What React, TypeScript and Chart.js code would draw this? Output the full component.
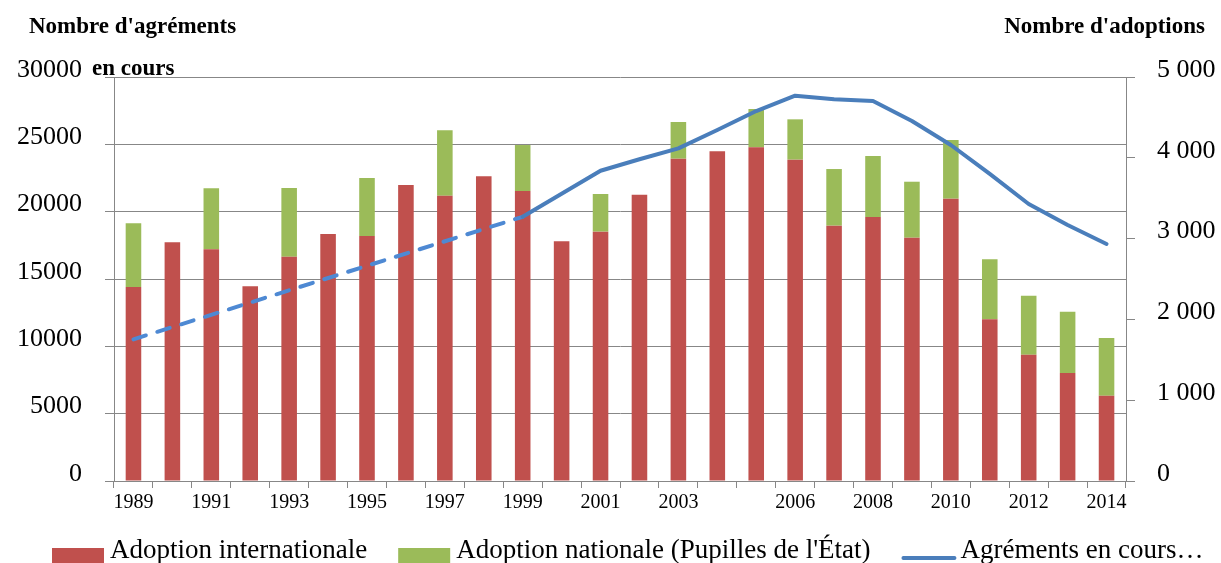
import React, { useEffect, useRef } from 'react';
import { Chart, registerables } from 'chart.js';

Chart.register(...registerables);

const SERIF = '"Liberation Serif", "DejaVu Serif", serif';

const years = [
  '1989', '1990', '1991', '1992', '1993', '1994', '1995', '1996', '1997', '1998',
  '1999', '2000', '2001', '2002', '2003', '2004', '2005', '2006', '2007', '2008',
  '2009', '2010', '2011', '2012', '2013', '2014',
];

const shownYearLabels = [
  '1989', '1991', '1993', '1995', '1997', '1999', '2001', '2003', '2006', '2008', '2010', '2012', '2014',
];

// Nombre d'adoptions (axe de droite)
const adoptionInternationale = [
  2401, 2954, 2868, 2409, 2776, 3057, 3032, 3663, 3531, 3771,
  3589, 2966, 3086, 3544, 3989, 4080, 4130, 3977, 3160, 3267,
  3011, 3494, 2001, 1563, 1337, 1056,
];

const adoptionNationale = [
  788, null, 754, null, 850, null, 718, null, 809, null,
  569, null, 466, null, 454, null, 474, 499, 701, 755,
  693, 726, 743, 730, 758, 714,
];

// Nombre d'agréments en cours (axe de gauche)
const agrementsEnCours = [
  10520, null, null, null, null, null, null, null, null, null,
  19620, 21330, 23040, 23890, 24700, 26060, 27470, 28610, 28340, 28220,
  26730, 24950, 22800, 20570, 19010, 17600,
];

const leftAxisMax = 30000;
const leftAxisStep = 5000;
const rightAxisMax = 5000;
const rightAxisStep = 1000;

const labelInternationale = 'Adoption internationale';
const labelNationale = "Adoption nationale (Pupilles de l'État)";
const labelAgrements = 'Agréments en cours…';

const leftTitleLine1 = "Nombre d'agréments";
const leftTitleLine2 = 'en cours';
const rightTitle = "Nombre d'adoptions";

const RED = '#C0504D';
const GREEN = '#9BBB59';
const BLUE = '#4A7EBB';
const BLUE_DASHED = '#4E89D3';
const GRID = '#878787';

const formatRight = (v: number) => {
  if (v === 0) return '0';
  const s = String(v);
  return s.slice(0, s.length - 3) + ' ' + s.slice(s.length - 3);
};

const decorPlugin = {
  id: 'decor',
  afterDraw(chart: any) {
    const ctx = chart.ctx as CanvasRenderingContext2D;
    ctx.save();
    ctx.fillStyle = '#000';
    ctx.textBaseline = 'alphabetic';
    ctx.font = `bold 23px ${SERIF}`;
    ctx.textAlign = 'left';
    ctx.fillText(leftTitleLine1, 29, 33);
    ctx.fillText(leftTitleLine2, 92, 75);
    ctx.textAlign = 'right';
    ctx.fillText(rightTitle, 1205, 33);

    // legend
    ctx.textAlign = 'left';
    ctx.font = `27px ${SERIF}`;
    const baseY = 558;
    let x = 52;
    const datasets = chart.data.datasets;
    datasets.forEach((ds: any) => {
      if (ds.type === 'line') {
        ctx.strokeStyle = ds.borderColor;
        ctx.lineWidth = 4;
        ctx.lineCap = 'round';
        ctx.beginPath();
        ctx.moveTo(x + 2, baseY);
        ctx.lineTo(x + 53, baseY);
        ctx.stroke();
        x += 59;
      } else {
        ctx.fillStyle = ds.backgroundColor;
        ctx.fillRect(x, 548, 52, 16);
        x += 58;
      }
      ctx.fillStyle = '#000';
      ctx.fillText(ds.label, x, baseY);
      x += ctx.measureText(ds.label).width + 31;
    });
    ctx.restore();
  },
};

export default function App() {
  const canvasRef = useRef<HTMLCanvasElement | null>(null);

  useEffect(() => {
    if (!canvasRef.current) return;
    // a segment spanning missing years (p0DataIndex is the index just before p1)
    const isGap = (c: any) => agrementsEnCours[c.p0DataIndex] == null;
    const chart = new Chart(canvasRef.current, {
      type: 'bar',
      data: {
        labels: years,
        datasets: [
          {
            type: 'bar',
            label: labelInternationale,
            data: adoptionInternationale,
            backgroundColor: RED,
            borderWidth: 0,
            yAxisID: 'y1',
            categoryPercentage: 1,
            barPercentage: 0.4,
            order: 1,
          },
          {
            type: 'bar',
            label: labelNationale,
            data: adoptionNationale,
            backgroundColor: GREEN,
            borderWidth: 0,
            yAxisID: 'y1',
            categoryPercentage: 1,
            barPercentage: 0.4,
            order: 1,
          },
          {
            type: 'line',
            label: labelAgrements,
            data: agrementsEnCours,
            borderColor: BLUE,
            borderWidth: 4,
            borderCapStyle: 'round',
            borderJoinStyle: 'round',
            pointRadius: 0,
            pointHoverRadius: 0,
            tension: 0,
            spanGaps: true,
            yAxisID: 'y',
            order: -1,
            segment: {
              borderDash: (c: any) => (isGap(c) ? [13, 12] : undefined),
              borderColor: (c: any) => (isGap(c) ? BLUE_DASHED : undefined),
            },
          } as any,
        ],
      },
      options: {
        animation: false,
        responsive: true,
        maintainAspectRatio: false,
        layout: { padding: { top: 77, left: 0, right: 0, bottom: 0 } },
        plugins: {
          legend: { display: false },
          tooltip: { enabled: false },
          title: { display: false },
        },
        scales: {
          x: {
            stacked: true,
            offset: true,
            grid: {
              offset: true,
              drawOnChartArea: false,
              drawTicks: true,
              tickLength: 7,
              color: GRID,
            },
            border: { color: GRID, width: 1 },
            ticks: {
              autoSkip: false,
              maxRotation: 0,
              minRotation: 0,
              padding: 3,
              color: '#000',
              font: { family: SERIF, size: 20 },
              callback: (_v: any, index: number) =>
                shownYearLabels.includes(years[index]) ? years[index] : '',
            },
            afterFit: (scale: any) => {
              scale.height = 82;
            },
          },
          y: {
            position: 'left',
            min: 0,
            max: leftAxisMax,
            grid: { color: GRID, tickLength: 9, drawTicks: true },
            border: { color: GRID, width: 1 },
            ticks: {
              stepSize: leftAxisStep,
              padding: 23,
              labelOffset: -7,
              color: '#000',
              font: { family: SERIF, size: 26 },
              callback: (v: any) => String(v),
            },
            afterFit: (scale: any) => {
              scale.width = 114;
            },
          },
          y1: {
            position: 'right',
            stacked: true,
            min: 0,
            max: rightAxisMax,
            grid: { drawOnChartArea: false, tickLength: 9, drawTicks: true, color: GRID },
            border: { color: GRID, width: 1 },
            ticks: {
              stepSize: rightAxisStep,
              padding: 22,
              labelOffset: -7,
              color: '#000',
              font: { family: SERIF, size: 26 },
              callback: (v: any) => formatRight(Number(v)),
            },
            afterFit: (scale: any) => {
              scale.width = 95;
            },
          },
        },
      },
      plugins: [decorPlugin],
    });
    return () => chart.destroy();
  }, []);

  return (
    <div style={{ position: 'absolute', left: 0, top: 0, width: 1221, height: 563, background: '#fff' }}>
      <canvas ref={canvasRef} />
    </div>
  );
}
